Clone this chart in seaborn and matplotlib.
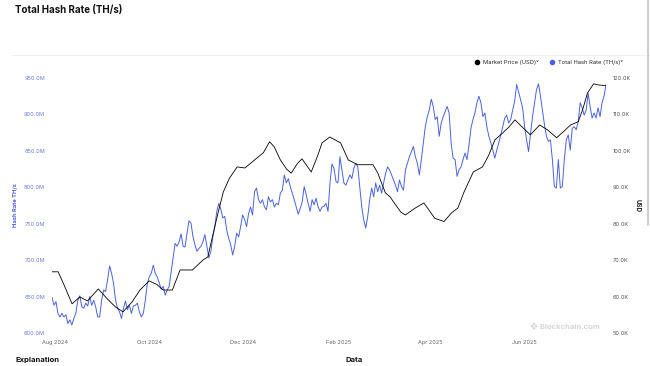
import pandas as pd
import matplotlib
matplotlib.use("Agg")
import matplotlib.pyplot as plt
from matplotlib.ticker import FuncFormatter
from matplotlib.lines import Line2D
import seaborn as sns

# hash rate (million TH/s), evenly spaced between start and end dates
hash_start = "2024-07-30"
hash_end = "2025-07-24"
hash_rate_m = [
    649, 638, 643, 627, 622, 627, 622, 625, 613, 618, 611, 620, 627, 645, 651, 636, 634, 641, 637, 650,
    638, 645, 636, 622, 622, 645, 659, 657, 673, 692, 682, 668, 645, 634, 629, 620, 634, 644, 632, 638,
    627, 637, 638, 641, 629, 622, 627, 645, 668, 677, 682, 693, 682, 677, 669, 660, 664, 652, 659, 664,
    684, 703, 723, 719, 725, 736, 719, 718, 737, 754, 751, 732, 721, 712, 716, 719, 725, 735, 719, 703,
    712, 732, 746, 767, 778, 770, 758, 760, 741, 730, 721, 707, 719, 737, 732, 746, 762, 756, 746, 764,
    773, 762, 794, 799, 783, 778, 783, 773, 769, 787, 780, 783, 773, 778, 776, 792, 796, 817, 806, 812,
    801, 792, 783, 773, 763, 771, 780, 801, 790, 778, 767, 783, 776, 785, 773, 767, 773, 774, 778, 767,
    806, 832, 826, 808, 806, 842, 824, 806, 803, 810, 817, 812, 826, 833, 828, 801, 773, 755, 744, 760,
    783, 799, 787, 806, 794, 803, 792, 806, 819, 828, 824, 817, 810, 803, 794, 810, 801, 796, 824, 833,
    842, 849, 856, 842, 833, 817, 838, 861, 883, 897, 906, 921, 911, 893, 897, 870, 888, 897, 904, 911,
    902, 861, 840, 838, 815, 824, 828, 838, 847, 838, 858, 881, 893, 902, 916, 925, 916, 897, 902, 883,
    870, 861, 851, 840, 851, 861, 872, 883, 895, 899, 888, 893, 906, 918, 941, 931, 920, 909, 883, 865,
    849, 874, 897, 916, 934, 942, 925, 906, 886, 870, 863, 865, 838, 801, 799, 838, 799, 801, 838, 865,
    872, 851, 881, 883, 879, 890, 916, 909, 899, 906, 929, 911, 895, 902, 895, 909, 897, 916, 925, 941,
]

# market price (thousand USD)
price_dates = [
    "2024-07-30", "2024-08-03", "2024-08-07", "2024-08-12", "2024-08-17", "2024-08-22", "2024-08-29",
    "2024-09-04", "2024-09-09", "2024-09-14", "2024-09-20", "2024-09-25", "2024-10-01", "2024-10-06",
    "2024-10-10", "2024-10-16", "2024-10-21", "2024-10-29", "2024-11-05", "2024-11-08", "2024-11-11",
    "2024-11-14", "2024-11-18", "2024-11-22", "2024-11-27", "2024-12-02", "2024-12-10", "2024-12-14",
    "2024-12-18", "2024-12-21", "2024-12-25", "2024-12-29", "2025-01-01", "2025-01-05", "2025-01-08",
    "2025-01-14", "2025-01-18", "2025-01-21", "2025-01-26", "2025-02-02", "2025-02-07", "2025-02-13",
    "2025-02-23", "2025-02-26", "2025-03-03", "2025-03-06", "2025-03-13", "2025-03-16", "2025-03-22",
    "2025-03-28", "2025-04-04", "2025-04-10", "2025-04-15", "2025-04-19", "2025-04-23", "2025-04-29",
    "2025-05-05", "2025-05-09", "2025-05-13", "2025-05-18", "2025-05-22", "2025-05-26", "2025-06-01",
    "2025-06-05", "2025-06-11", "2025-06-16", "2025-06-22", "2025-06-27", "2025-07-01", "2025-07-06",
    "2025-07-09", "2025-07-12", "2025-07-16", "2025-07-19", "2025-07-24",
]
price_k = [
    66.8, 66.8, 63.0, 58.0, 59.9, 58.8, 62.1,
    59.3, 57.2, 55.8, 58.6, 61.8, 64.3, 63.3,
    61.8, 61.8, 67.3, 67.3, 70.1, 70.9, 76.5,
    81.9, 88.7, 92.5, 95.6, 95.3, 98.1, 99.5,
    102.5, 101.1, 97.5, 95.0, 93.9, 96.5, 97.8,
    94.2, 98.5, 102.2, 103.8, 102.2, 97.5, 96.2,
    96.2, 94.0, 88.5, 87.4, 83.2, 82.4, 84.2,
    85.7, 81.5, 80.6, 83.0, 84.3, 88.7, 94.2,
    95.6, 98.8, 103.0, 104.9, 106.5, 108.5, 106.0,
    104.4, 107.1, 105.8, 103.6, 105.5, 107.1, 108.0,
    111.5, 115.9, 118.4, 118.1, 117.9,
]

x_ticks = ["2024-08-01", "2024-10-01", "2024-12-01", "2025-02-01", "2025-04-01", "2025-06-01"]
hash_ticks = [600, 650, 700, 750, 800, 850, 900, 950]
price_ticks = [50, 60, 70, 80, 90, 100, 110, 120]

BLUE = "#4a62dc"
W, H = 650, 366

sns.set_style("white")
plt.rcParams["font.family"] = ["Inter", "DejaVu Sans"]

hash_df = pd.DataFrame({
    "date": pd.date_range(hash_start, hash_end, periods=len(hash_rate_m)),
    "hash": hash_rate_m,
})
price_df = pd.DataFrame({"date": pd.to_datetime(price_dates), "price": price_k})

fig = plt.figure(figsize=(W / 100, H / 100), dpi=100)
ax = fig.add_axes([52 / W, 1 - 333 / H, (606 - 52) / W, (333 - 78) / H])

sns.lineplot(data=hash_df, x="date", y="hash", ax=ax, color=BLUE, linewidth=0.7)
ax2 = ax.twinx()
sns.lineplot(data=price_df, x="date", y="price", ax=ax2, color="black", linewidth=0.6)

ax.set_xlim(hash_df["date"].iloc[0], hash_df["date"].iloc[-1])
ax.set_ylim(600, 950)
ax2.set_ylim(50, 120)

ax.set_xticks(pd.to_datetime(x_ticks))
ax.set_xticklabels([pd.Timestamp(d).strftime("%b %Y") for d in x_ticks])
ax.set_yticks(hash_ticks)
ax2.set_yticks(price_ticks)
ax.yaxis.set_major_formatter(FuncFormatter(lambda v, _: f"{v:.1f}M"))
ax2.yaxis.set_major_formatter(FuncFormatter(lambda v, _: f"{v:.1f}K"))

ax.tick_params(axis="x", length=0, labelsize=4, labelcolor="#666666", pad=5)
ax.tick_params(axis="y", length=0, labelsize=4, labelcolor="#6a7be6", pad=5)
ax2.tick_params(axis="y", length=0, labelsize=4, labelcolor="#555555", pad=5)

for a in (ax, ax2):
    for s in a.spines.values():
        s.set_visible(False)
    a.grid(False)

ax.set_xlabel("")
ax.set_ylabel("Hash Rate TH/s", color=BLUE, fontsize=4.2, fontweight="bold")
ax.yaxis.set_label_coords((18 - 52) / 554, 0.5)
ax2.set_ylabel("USD", color="#222222", fontsize=4.5, fontweight="bold", rotation=270, va="center")
ax2.yaxis.set_label_coords((638 - 52) / 554, 0.5)

handles = [
    Line2D([], [], marker="o", color="black", linestyle="", markersize=3),
    Line2D([], [], marker="o", color=BLUE, linestyle="", markersize=3),
]
ax2.legend(handles, ["Market Price (USD)˅", "Total Hash Rate (TH/s)˅"],
           loc="center right", bbox_to_anchor=(1.035, 1.06), ncol=2, frameon=False,
           fontsize=4.2, handletextpad=0.1, columnspacing=1.2, borderaxespad=0)

fig.text(15 / W, 1 - 10 / H, "Total Hash Rate (TH/s)", fontsize=7, fontweight="bold",
         va="center", color="#111111")
fig.add_artist(Line2D([12 / W, 1], [1 - 55 / H] * 2, color="#eeeeee", lw=0.6))
fig.add_artist(Line2D([648 / W] * 2, [1, 1 - 225 / H], color="#c4c4c4", lw=1.2))

fig.text(600 / W, 1 - 327 / H, "❖ Blockchain.com", ha="right", va="center",
         fontsize=5.5, fontweight="bold", color="#d6d6d6")
fig.text(15 / W, 1 - 360 / H, "Explanation", fontsize=5.5, fontweight="bold", va="center", color="#111111")
fig.text(345 / W, 1 - 360 / H, "Data", fontsize=5.5, fontweight="bold", va="center", color="#111111")

fig.savefig("out.png", dpi=100)
